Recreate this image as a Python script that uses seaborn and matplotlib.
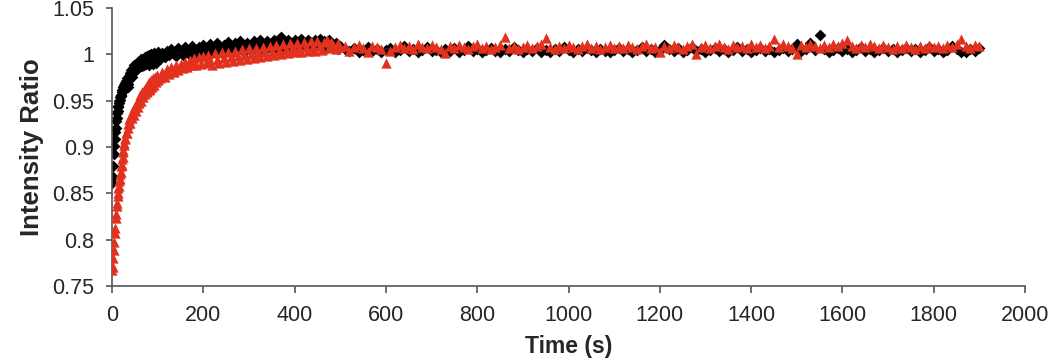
import numpy as np
import pandas as pd
import seaborn as sns
import matplotlib
matplotlib.use("Agg")
import matplotlib.pyplot as plt

# sampling grid of the acquisition (s)
time_s = (list(range(1, 31)) + list(range(32, 101, 2))
          + list(range(105, 501, 5)) + list(range(510, 1901, 10)))

# black diamonds
ratio_black = [
    0.861, 0.868, 0.879, 0.892, 0.901, 0.909, 0.916, 0.921, 0.928, 0.931,
    0.937, 0.939, 0.943, 0.944, 0.948, 0.950, 0.951, 0.954, 0.956, 0.955,
    0.959, 0.961, 0.960, 0.963, 0.965, 0.964, 0.967, 0.969, 0.968, 0.971,
    # 32-100
    0.974, 0.968, 0.965, 0.977, 0.980, 0.983, 0.976, 0.985, 0.988, 0.982,
    0.990, 0.984, 0.991, 0.993, 0.986, 0.992, 0.995, 0.987, 0.995, 0.989,
    0.997, 0.990, 0.998, 0.991, 0.989, 0.999, 0.992, 1.000, 0.993, 0.990,
    1.001, 0.994, 0.991, 0.999, 1.002,
    # 105-500
    0.995, 1.001, 0.997, 1.004, 0.999, 1.006, 1.000, 0.998, 1.007, 1.002,
    0.999, 1.008, 1.002, 0.999, 1.009, 1.004, 1.000, 1.008, 1.002, 1.010,
    1.004, 1.000, 1.011, 1.006, 1.002, 1.012, 1.005, 1.001, 1.010, 1.004,
    1.013, 1.007, 1.002, 1.012, 1.005, 1.014, 1.007, 1.003, 1.012, 1.008,
    1.005, 1.014, 1.009, 1.004, 1.015, 1.008, 1.005, 1.014, 1.010, 1.006,
    1.015, 1.008, 1.017, 1.019, 1.009, 1.006, 1.016, 1.010, 1.007, 1.015,
    1.011, 1.007, 1.017, 1.012, 1.008, 1.016, 1.010, 1.007, 1.015, 1.012,
    1.017, 1.009, 1.014, 1.007, 1.016, 1.011, 1.008, 1.012, 1.006, 1.009,
    # 510-1900
    1.006, 1.004, 1.007, 1.003, 1.005, 1.008, 1.004, 1.006, 1.002, 1.005,
    1.007, 1.003, 1.005, 1.009, 1.004, 1.006, 1.003, 1.005, 1.008, 1.004,
    1.005, 1.002, 1.006, 1.004, 1.007, 1.003, 1.005, 1.009, 1.004, 1.006,
    1.003, 1.005, 1.007, 1.004, 1.002, 1.006, 1.004, 1.008, 1.005, 1.003,
    1.006, 1.004, 1.007, 1.003, 1.005, 1.002, 1.006, 1.004, 1.008, 1.005,
    1.003, 1.006, 1.004, 1.007, 1.005, 1.003, 1.006, 1.004, 1.002, 1.005,
    1.007, 1.004, 1.006, 1.003, 1.005, 1.008, 1.004, 1.006, 1.003, 1.005,
    1.010, 1.006, 1.004, 1.007, 1.003, 1.005, 1.008, 1.004, 1.006, 1.003,
    1.005, 1.007, 1.004, 1.006, 1.003, 1.005, 1.008, 1.004, 1.006, 1.002,
    1.005, 1.007, 1.004, 1.006, 1.003, 1.005, 1.007, 1.004, 1.006, 1.011,
    1.004, 1.006, 1.012, 1.005, 1.021, 1.006, 1.003, 1.005, 1.007, 1.004,
    1.006, 1.003, 1.005, 1.008, 1.004, 1.006, 1.003, 1.005, 1.007, 1.004,
    1.006, 1.003, 1.005, 1.007, 1.004, 1.006, 1.003, 1.005, 1.008, 1.004,
    1.006, 1.003, 1.005, 1.009, 1.006, 1.002, 1.003, 1.006, 1.004, 1.007,
]

# red triangles
ratio_red = [
    0.767, 0.771, 0.780, 0.789, 0.797, 0.807, 0.813, 0.823, 0.828, 0.836,
    0.840, 0.847, 0.850, 0.856, 0.858, 0.863, 0.866, 0.871, 0.873, 0.879,
    0.881, 0.887, 0.889, 0.895, 0.897, 0.902, 0.904, 0.909, 0.910, 0.915,
    # 32-100
    0.915, 0.925, 0.921, 0.930, 0.926, 0.935, 0.931, 0.940, 0.935, 0.944,
    0.939, 0.948, 0.943, 0.952, 0.947, 0.956, 0.950, 0.959, 0.954, 0.962,
    0.957, 0.965, 0.959, 0.968, 0.961, 0.970, 0.963, 0.972, 0.965, 0.974,
    0.967, 0.976, 0.970, 0.978, 0.972,
    # 105-500
    0.974, 0.981, 0.976, 0.984, 0.979, 0.986, 0.981, 0.988, 0.983, 0.990,
    0.985, 0.992, 0.986, 0.994, 0.988, 0.996, 0.989, 0.997, 0.990, 0.998,
    0.991, 0.999, 0.993, 0.989, 1.001, 0.994, 0.991, 1.002, 0.996, 0.992,
    1.003, 0.997, 0.993, 1.004, 0.998, 0.994, 1.006, 0.999, 0.995, 1.007,
    1.000, 0.996, 1.007, 1.001, 0.997, 1.008, 1.002, 0.998, 1.009, 1.003,
    0.999, 1.010, 1.004, 1.000, 1.011, 1.005, 1.001, 1.012, 1.006, 1.002,
    1.012, 1.007, 1.003, 1.013, 1.008, 1.004, 1.014, 1.008, 1.004, 1.014,
    1.009, 1.005, 1.013, 1.015, 1.007, 1.013, 1.010, 1.006, 1.012, 1.008,
    # 510-1900
    1.009, 1.004, 1.008, 1.010, 1.007, 1.003, 1.009, 1.008, 1.006, 0.991,
    1.004, 1.008, 1.010, 1.007, 1.009, 1.006, 1.011, 1.008, 1.007, 1.010,
    1.008, 1.006, 1.001, 1.009, 1.007, 1.010, 1.008, 1.006, 1.009, 1.011,
    1.007, 1.009, 1.006, 1.008, 1.010, 1.019, 1.007, 1.009, 1.006, 1.008,
    1.010, 1.007, 1.009, 1.011, 1.018, 1.008, 1.006, 1.009, 1.007, 1.010,
    1.008, 1.006, 1.009, 1.011, 1.007, 1.009, 1.006, 1.008, 1.010, 1.007,
    1.009, 1.007, 1.010, 1.008, 1.006, 1.009, 1.011, 1.007, 1.008, 1.002,
    1.009, 1.007, 1.010, 1.008, 1.006, 1.009, 1.011, 1.000, 1.008, 1.010,
    1.007, 1.009, 1.011, 1.008, 1.006, 1.010, 1.008, 1.009, 1.007, 1.011,
    1.008, 1.010, 1.007, 1.009, 1.017, 1.008, 1.011, 1.009, 1.007, 1.000,
    1.010, 1.008, 1.011, 1.009, 1.007, 1.010, 1.008, 1.011, 1.009, 1.012,
    1.016, 1.009, 1.007, 1.010, 1.008, 1.011, 1.009, 1.007, 1.010, 1.008,
    1.006, 1.009, 1.007, 1.010, 1.008, 1.006, 1.009, 1.007, 1.010, 1.008,
    1.009, 1.007, 1.010, 1.008, 1.011, 1.017, 1.009, 1.007, 1.010, 1.009,
]

# plateau of the fitted curve
fit_plateau = 1.006
fit_start, fit_end = 450, 1900

x_ticks = [0, 200, 400, 600, 800, 1000, 1200, 1400, 1600, 1800, 2000]
y_ticks = [0.75, 0.8, 0.85, 0.9, 0.95, 1.0, 1.05]
y_tick_labels = ["0.75", "0.8", "0.85", "0.9", "0.95", "1", "1.05"]

sns.set_style("ticks")
plt.rcParams['font.family'] = ['Liberation Sans', 'DejaVu Sans']

df = pd.DataFrame({'time': time_s, 'black': ratio_black, 'red': ratio_red})

fig = plt.figure(figsize=(10.5, 3.63), dpi=100)
ax = fig.add_axes([0.1067, 0.2121, 0.8695, 0.7658])

sns.scatterplot(data=df, x='time', y='black', marker='D', s=36, color='black',
                linewidth=0, ax=ax, zorder=2)
ax.hlines(fit_plateau, fit_start, fit_end, color='#222222', linewidth=1.2, zorder=2.5)
sns.scatterplot(data=df, x='time', y='red', marker='^', s=55, color='#e2321f',
                linewidth=0, ax=ax, zorder=3)

ax.set_xlim(0, 2000)
ax.set_ylim(0.75, 1.05)
ax.set_xticks(x_ticks)
ax.set_xticklabels([str(t) for t in x_ticks])
ax.set_yticks(y_ticks)
ax.set_yticklabels(y_tick_labels)

sns.despine(ax=ax)
for side in ['left', 'bottom']:
    ax.spines[side].set_color('#555555')
    ax.spines[side].set_linewidth(1.2)
ax.tick_params(axis='y', direction='out', length=4, width=1.2, color='#555555',
               labelsize=15.5, pad=9)
ax.tick_params(axis='x', direction='out', length=5, width=1.2, color='#555555',
               labelsize=15.5, pad=9)

ax.set_xlabel('Time (s)', fontsize=16.5, fontweight='bold', labelpad=6)
ax.set_ylabel('Intensity Ratio', fontsize=18.5, fontweight='bold', labelpad=6)
ax.grid(False)

fig.savefig('out.png', dpi=100)
plt.close(fig)
